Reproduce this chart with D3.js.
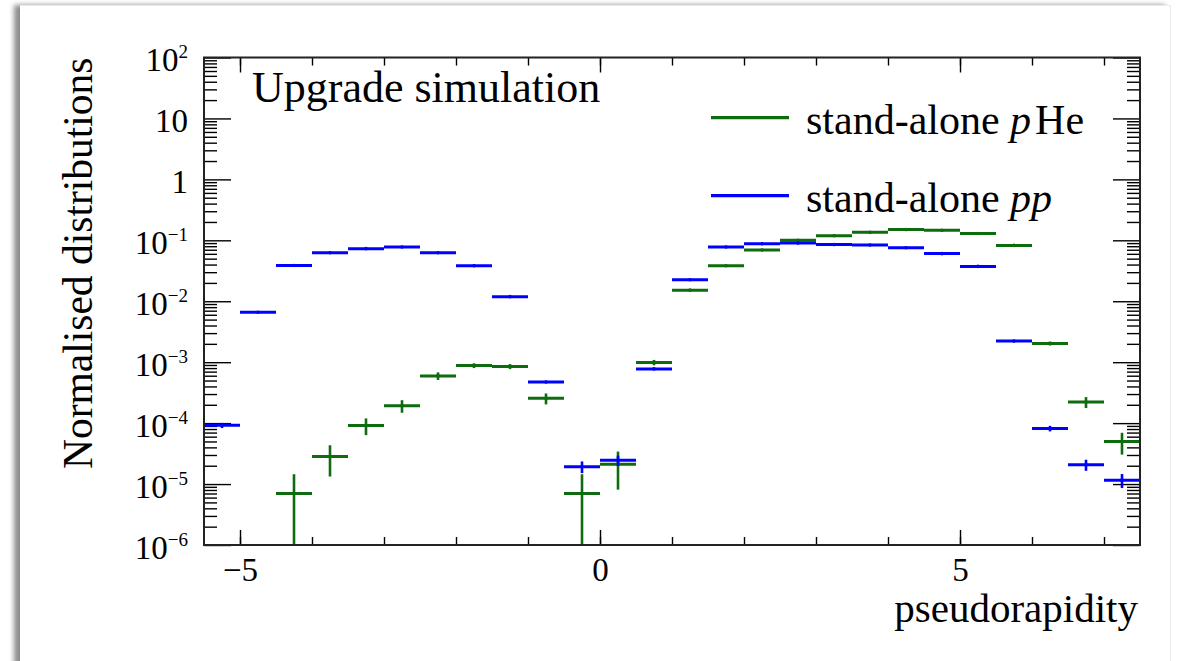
<!DOCTYPE html>
<html>
<head>
<meta charset="utf-8">
<script src="https://cdn.jsdelivr.net/npm/d3@7"></script>
<style>
  html, body { margin: 0; padding: 0; background: #fff; width: 1183px; height: 661px; overflow: hidden; }
  .card {
    position: absolute; left: 20px; top: 5px; width: 1150px; height: 700px; background: #fff;
    box-shadow: -6px 0 5px rgba(0, 0, 0, 0.45);
    border-top: 1px solid #ececec; border-right: 1px solid #ececec;
  }
  #chart { position: absolute; left: 0; top: 0; }
  text { font-family: "Liberation Serif", "Times New Roman", serif; fill: #000; }
</style>
</head>
<body>
<div class="card"></div>
<div id="chart"></div>
<script>
// bin width in pseudorapidity
const binWidth = 0.5;

// stand-alone pp (blue)
const etaPP = [-5.25, -4.75, -4.25, -3.75, -3.25, -2.75, -2.25, -1.75, -1.25, -0.75, -0.25, 0.25, 0.75,
  1.25, 1.75, 2.25, 2.75, 3.25, 3.75, 4.25, 4.75, 5.25, 5.75, 6.25, 6.75, 7.25];
const valPP = [9.2e-5, 6.6e-3, 0.0387, 0.0626, 0.073, 0.0777, 0.0626, 0.0382, 0.0119, 4.74e-4, 1.93e-5, 2.45e-5, 7.76e-4,
  0.0225, 0.0777, 0.088, 0.090, 0.085, 0.084, 0.0755, 0.0605, 0.0373, 2.22e-3, 8.17e-5, 2.08e-5, 1.16e-5];
const errPP = [9e-6, 7.5e-5, 1.8e-4, 2.3e-4, 2.5e-4, 2.6e-4, 2.3e-4, 1.8e-4, 1.0e-4, 2.0e-5, 4.2e-6, 4.7e-6, 2.6e-5,
  1.4e-4, 2.6e-4, 2.8e-4, 2.8e-4, 2.7e-4, 2.7e-4, 2.6e-4, 2.3e-4, 1.8e-4, 4.5e-5, 8.6e-6, 4.3e-6, 3.0e-6];

// stand-alone pHe (green)
const etaPHe = [-4.25, -3.75, -3.25, -2.75, -2.25, -1.75, -1.25, -0.75, -0.25, 0.25, 0.75,
  1.25, 1.75, 2.25, 2.75, 3.25, 3.75, 4.25, 4.75, 5.25, 5.75, 6.25, 6.75, 7.25];
const valPHe = [7.0e-6, 2.83e-5, 9.15e-5, 1.93e-4, 5.96e-4, 8.8e-4, 8.5e-4, 2.55e-4, 7.0e-6, 2.11e-5, 9.9e-4,
  0.0152, 0.0382, 0.0693, 0.100, 0.119, 0.135, 0.150, 0.146, 0.129, 0.0825, 2.03e-3, 2.22e-4, 4.99e-5];
const errPHe = [7.5e-6, 1.5e-5, 2.8e-5, 4.5e-5, 8.5e-5, 8e-5, 8e-5, 5.2e-5, 7.5e-6, 1.3e-5, 1.0e-4,
  4e-4, 6.5e-4, 9e-4, 1.0e-3, 1.1e-3, 1.2e-3, 1.3e-3, 1.3e-3, 1.2e-3, 9e-4, 1.5e-4, 4.5e-5, 1.95e-5];

// axis ticks
const xMajor = [-5, 0, 5];
const xMinor = [-5, -4, -3, -2, -1, 0, 1, 2, 3, 4, 5, 6, 7];
const yMajor = [1e-6, 1e-5, 1e-4, 1e-3, 1e-2, 1e-1, 1, 10, 100];

const W = 1183, H = 661;
const frame = { left: 204, right: 1140, top: 57.5, bottom: 545 };
const green = '#0e6b0e';
const blue = '#0000ff';

const svg = d3.select('#chart').append('svg').attr('width', W).attr('height', H);
const x = d3.scaleLinear().domain([-5.5, 7.5]).range([frame.left, frame.right]);
const y = d3.scaleLog().domain([1e-6, 1e2]).range([frame.bottom, frame.top]);
const yMinor = y.ticks().filter((d) => !yMajor.some((m) => Math.abs(m - d) / m < 1e-9));

svg.append('defs').append('clipPath').attr('id', 'plot-clip')
  .append('rect')
  .attr('x', frame.left).attr('y', frame.top)
  .attr('width', frame.right - frame.left).attr('height', frame.bottom - frame.top);

function cleanAxis(g) {
  g.select('.domain').remove();
  g.selectAll('.tick line').attr('stroke', '#000').attr('stroke-width', 1.4);
}

function powerLabel(sel) {
  sel.each(function (d) {
    const t = d3.select(this);
    const e = Math.round(Math.log10(d));
    t.text(null);
    if (e === 0) t.text('1');
    else if (e === 1) t.text('10');
    else {
      t.append('tspan').text('10');
      t.append('tspan').attr('font-size', 19).attr('dy', '-0.68em')
        .text(e < 0 ? '\u2212' + (-e) : String(e));
    }
  });
}

// y axes (left with labels, right mirrored)
svg.append('g').attr('transform', `translate(${frame.left},0)`)
  .call(d3.axisLeft(y).tickValues(yMinor).tickSize(-13).tickFormat(''))
  .call(cleanAxis);
svg.append('g').attr('transform', `translate(${frame.left},0)`)
  .call(d3.axisLeft(y).tickValues(yMajor).tickSize(-27).tickPadding(16))
  .call(cleanAxis)
  .call((g) => g.selectAll('text').attr('font-size', 33).attr('dy', '0.4em').call(powerLabel));
svg.append('g').attr('transform', `translate(${frame.right},0)`)
  .call(d3.axisRight(y).tickValues(yMinor).tickSize(-13).tickFormat(''))
  .call(cleanAxis);
svg.append('g').attr('transform', `translate(${frame.right},0)`)
  .call(d3.axisRight(y).tickValues(yMajor).tickSize(-27).tickFormat(''))
  .call(cleanAxis);

// x axes (bottom with labels, top mirrored)
svg.append('g').attr('transform', `translate(0,${frame.bottom})`)
  .call(d3.axisBottom(x).tickValues(xMinor).tickSize(-8).tickFormat(''))
  .call(cleanAxis);
svg.append('g').attr('transform', `translate(0,${frame.bottom})`)
  .call(d3.axisBottom(x).tickValues(xMajor).tickSize(-15).tickPadding(13)
    .tickFormat((d) => (d < 0 ? '\u2212' + (-d) : String(d))))
  .call(cleanAxis)
  .call((g) => g.selectAll('text').attr('font-size', 33));
svg.append('g').attr('transform', `translate(0,${frame.top})`)
  .call(d3.axisTop(x).tickValues(xMinor).tickSize(-8).tickFormat(''))
  .call(cleanAxis);
svg.append('g').attr('transform', `translate(0,${frame.top})`)
  .call(d3.axisTop(x).tickValues(xMajor).tickSize(-15).tickFormat(''))
  .call(cleanAxis);

// data
const plot = svg.append('g').attr('clip-path', 'url(#plot-clip)');

function drawSeries(eta, val, err, color) {
  const pts = eta.map((e, i) => ({ eta: e, v: val[i], err: err[i] }));
  const g = plot.append('g');
  g.selectAll('line.bin').data(pts).join('line')
    .attr('class', 'bin')
    .attr('x1', (d) => x(d.eta - binWidth / 2))
    .attr('x2', (d) => x(d.eta + binWidth / 2))
    .attr('y1', (d) => y(d.v))
    .attr('y2', (d) => y(d.v))
    .attr('stroke', color)
    .attr('stroke-width', 3);
  g.selectAll('line.err').data(pts).join('line')
    .attr('class', 'err')
    .attr('x1', (d) => x(d.eta))
    .attr('x2', (d) => x(d.eta))
    .attr('y1', (d) => y(d.v + d.err))
    .attr('y2', (d) => y(Math.max(d.v - d.err, 1e-8)))
    .attr('stroke', color)
    .attr('stroke-width', 2.6);
  g.selectAll('circle').data(pts).join('circle')
    .attr('cx', (d) => x(d.eta))
    .attr('cy', (d) => y(d.v))
    .attr('r', 1.8)
    .attr('fill', color);
}

drawSeries(etaPHe, valPHe, errPHe, green);
drawSeries(etaPP, valPP, errPP, blue);

// frame
svg.append('rect')
  .attr('x', frame.left).attr('y', frame.top)
  .attr('width', frame.right - frame.left).attr('height', frame.bottom - frame.top)
  .attr('fill', 'none').attr('stroke', '#222').attr('stroke-width', 2);

// titles
svg.append('text')
  .attr('transform', `translate(92,${frame.top}) rotate(-90)`)
  .attr('text-anchor', 'end')
  .attr('font-size', 41.5)
  .text('Normalised distributions');

svg.append('text')
  .attr('x', frame.right - 2).attr('y', 622)
  .attr('text-anchor', 'end')
  .attr('font-size', 41)
  .text('pseudorapidity');

svg.append('text')
  .attr('x', 252).attr('y', 102)
  .attr('font-size', 44)
  .text('Upgrade simulation');

// legend
const legend = [
  { label: 'stand-alone ', it: 'p', rest: 'He', color: green, y: 117.7 },
  { label: 'stand-alone ', it: 'pp', rest: '', color: blue, y: 195.7 },
];
const lg = svg.append('g');
legend.forEach((d) => {
  lg.append('line')
    .attr('x1', 711).attr('x2', 789).attr('y1', d.y).attr('y2', d.y)
    .attr('stroke', d.color).attr('stroke-width', 3.2);
  const t = lg.append('text').attr('x', 806).attr('y', d.y + 15.8).attr('font-size', 42);
  t.append('tspan').text(d.label);
  t.append('tspan').attr('font-style', 'italic').text(d.it);
  if (d.rest) t.append('tspan').attr('dx', 4).text(d.rest);
});
</script>
</body>
</html>
